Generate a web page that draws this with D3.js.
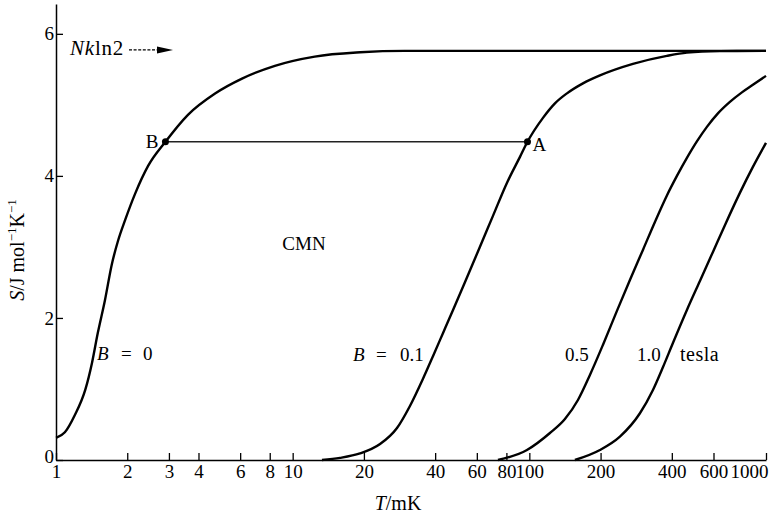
<!DOCTYPE html>
<html>
<head>
<meta charset="utf-8">
<script src="https://cdn.jsdelivr.net/npm/d3@7"></script>
<style>
  body { margin: 0; background: #fff; }
  svg { display: block; }
  text { font-family: "Liberation Serif", "DejaVu Serif", serif; fill: #000; }
</style>
</head>
<body>
<div class="figure"></div>
<script>
// curves: T in mK, S in J mol^-1 K^-1
let tB0 = [1, 1.09, 1.2, 1.33, 1.42, 1.5, 1.61, 1.72, 1.83, 1.96, 2.16, 2.45, 2.9, 3.61, 4.7, 6.11, 8.41, 12.4, 19.3, 29.7, 60, 1000];
let sB0 = [0.31, 0.39, 0.63, 0.99, 1.37, 1.78, 2.25, 2.75, 3.09, 3.38, 3.75, 4.14, 4.48, 4.86, 5.16, 5.37, 5.55, 5.68, 5.74, 5.76, 5.76, 5.76];

let tB01 = [13.3, 15.85, 19.25, 23.4, 27.6, 31.3, 35.5, 39.2, 43.2, 47.6, 53.5, 61.8, 70.2, 80.4, 91.3, 98.2, 114.2, 128.3, 144.2, 168.5, 198.8, 274, 381, 463, 639, 1000];
let sB01 = [0, 0.03, 0.092, 0.225, 0.451, 0.761, 1.141, 1.465, 1.789, 2.113, 2.507, 3.0, 3.437, 3.901, 4.268, 4.48, 4.817, 5.021, 5.162, 5.303, 5.415, 5.577, 5.69, 5.735, 5.756, 5.76];

let tB05 = [73.7, 97.7, 122.2, 141.4, 160.5, 180.3, 204.6, 234.5, 266.1, 302, 339.4, 381.4, 420.4, 463.3, 510.5, 562.8, 626.4, 703.9, 791.1, 880.4, 1000];
let sB05 = [0, 0.141, 0.38, 0.577, 0.845, 1.197, 1.62, 2.099, 2.535, 2.958, 3.352, 3.725, 4.0, 4.254, 4.486, 4.69, 4.88, 5.042, 5.176, 5.282, 5.408];

let tB10 = [155.8, 198.8, 241.4, 293.3, 332.9, 366.8, 404.3, 463.3, 525.8, 596.8, 677.1, 775.7, 880.4, 1000];
let sB10 = [0, 0.141, 0.329, 0.658, 0.986, 1.306, 1.648, 2.113, 2.521, 2.93, 3.338, 3.761, 4.127, 4.465];

let xTicks = [1, 2, 3, 4, 6, 8, 10, 20, 40, 60, 80, 100, 200, 400, 600, 1000];
let yTicks = [0, 2, 4, 6];

let nkln2 = 5.76;
let pointNames = ["B", "A"];
let pointT = [2.9, 98.2];
let pointS = [4.48, 4.48];

let W = 779, H = 520;

let svg = d3.select(".figure")
    .append("svg")
    .attr("width", W)
    .attr("height", H);

let x = d3.scaleLog().domain([1, 1000]).range([56, 766]);
let y = d3.scaleLinear().domain([0, 6.42]).range([460, 4]);

// axes
let gx = svg.append("g")
    .attr("transform", "translate(0," + y(0) + ")")
    .call(d3.axisBottom(x)
        .tickValues(xTicks)
        .tickFormat(d3.format("d"))
        .tickSizeInner(-7)
        .tickSizeOuter(0)
        .tickPadding(4.5));

gx.selectAll("text")
    .attr("font-size", 19)
    .attr("font-family", "Liberation Serif")
    .filter(d => d == 1000)
    .attr("text-anchor", "end")
    .attr("x", 2);

let gy = svg.append("g")
    .attr("transform", "translate(" + x(1) + ",0)")
    .call(d3.axisLeft(y)
        .tickValues(yTicks)
        .tickFormat(d3.format("d"))
        .tickSizeInner(-7)
        .tickSizeOuter(0)
        .tickPadding(2));

gy.selectAll("text")
    .attr("font-size", 19)
    .attr("font-family", "Liberation Serif")
    .filter(d => d == 0)
    .attr("y", -4);

svg.selectAll(".domain").attr("stroke", "#000").attr("stroke-width", 1.5);
svg.selectAll(".tick line").attr("stroke", "#000").attr("stroke-width", 1.3);

// curves
let curves = [[tB0, sB0], [tB01, sB01], [tB05, sB05], [tB10, sB10]];

let line = d3.line()
    .x(d => x(d[0]))
    .y(d => y(d[1]))
    .curve(d3.curveMonotoneX);

svg.selectAll(".curve")
    .data(curves)
    .enter()
    .append("path")
    .attr("class", "curve")
    .attr("d", c => line(c[0].map((t, i) => [t, c[1][i]])))
    .attr("fill", "none")
    .attr("stroke", "#000")
    .attr("stroke-width", 2.4);

// B - A line and points
svg.append("line")
    .attr("x1", x(pointT[0]))
    .attr("x2", x(pointT[1]))
    .attr("y1", y(pointS[0]))
    .attr("y2", y(pointS[1]))
    .attr("stroke", "#222")
    .attr("stroke-width", 1.4);

svg.selectAll(".pt")
    .data(pointNames)
    .enter()
    .append("circle")
    .attr("class", "pt")
    .attr("cx", (d, i) => x(pointT[i]))
    .attr("cy", (d, i) => y(pointS[i]))
    .attr("r", 3.5)
    .attr("fill", "#000");

svg.selectAll(".ptlabel")
    .data(pointNames)
    .enter()
    .append("text")
    .attr("class", "ptlabel")
    .attr("x", (d, i) => x(pointT[i]) + (i == 0 ? -7 : 5))
    .attr("y", (d, i) => y(pointS[i]) + (i == 0 ? 6 : 9))
    .attr("text-anchor", (d, i) => i == 0 ? "end" : "start")
    .attr("font-size", 19)
    .text(d => d);

// Nk ln2 arrow
let nk = svg.append("text")
    .attr("x", 70)
    .attr("y", y(nkln2) + 4)
    .attr("font-size", 21)
    .attr("letter-spacing", 0.8);
nk.append("tspan").attr("font-style", "italic").text("Nk");
nk.append("tspan").text("ln2");

svg.append("line")
    .attr("x1", 129).attr("x2", 158)
    .attr("y1", y(nkln2) - 1).attr("y2", y(nkln2) - 1)
    .attr("stroke", "#000")
    .attr("stroke-width", 1.2)
    .attr("stroke-dasharray", "3,1.6");

svg.append("path")
    .attr("d", "M157," + (y(nkln2) - 4.5) + "L173," + (y(nkln2) - 1) + "L157," + (y(nkln2) + 2.5) + "Z")
    .attr("fill", "#000");

// curve labels
let lb0 = svg.append("text").attr("y", 360).attr("font-size", 19);
lb0.append("tspan").attr("x", 97).attr("font-style", "italic").text("B");
lb0.append("tspan").attr("x", 121).text("=");
lb0.append("tspan").attr("x", 143).text("0");

let lb1 = svg.append("text").attr("y", 361).attr("font-size", 19);
lb1.append("tspan").attr("x", 353).attr("font-style", "italic").text("B");
lb1.append("tspan").attr("x", 376).text("=");
lb1.append("tspan").attr("x", 400).text("0.1");

svg.append("text").attr("x", 565).attr("y", 361).attr("font-size", 19).text("0.5");
svg.append("text").attr("x", 637).attr("y", 361).attr("font-size", 19).text("1.0");
svg.append("text").attr("x", 680).attr("y", 361).attr("font-size", 20)
    .attr("letter-spacing", 0.5).text("tesla");

svg.append("text").attr("x", 304).attr("y", 250).attr("text-anchor", "middle")
    .attr("font-size", 19).text("CMN");

// axis titles
let xt = svg.append("text")
    .attr("x", 398)
    .attr("y", 510)
    .attr("text-anchor", "middle")
    .attr("font-size", 20);
xt.append("tspan").attr("font-style", "italic").text("T");
xt.append("tspan").text("/mK");

let yt = svg.append("text")
    .attr("transform", "translate(24,250) rotate(-90)")
    .attr("text-anchor", "middle")
    .attr("font-size", 20);
yt.append("tspan").attr("font-style", "italic").text("S");
yt.append("tspan").text("/J mol");
yt.append("tspan").attr("font-size", 13).attr("dy", -8).text("\u22121");
yt.append("tspan").attr("dy", 8).text("K");
yt.append("tspan").attr("font-size", 13).attr("dy", -8).text("\u22121");
</script>
</body>
</html>
